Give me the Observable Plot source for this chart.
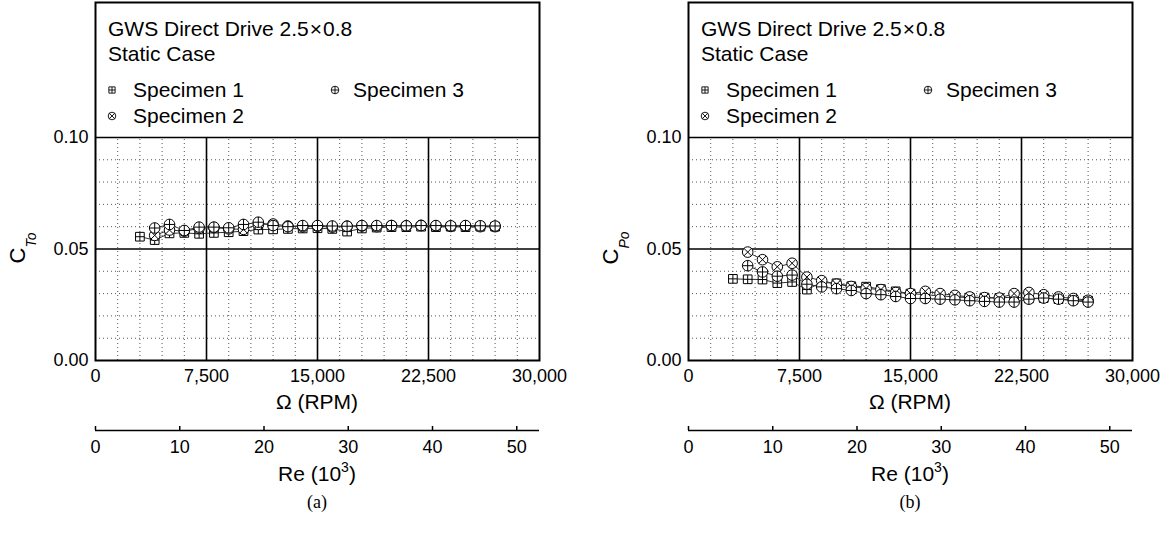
<!DOCTYPE html>
<html><head><meta charset="utf-8">
<script src="https://cdn.jsdelivr.net/npm/d3@7"></script>
<script src="https://cdn.jsdelivr.net/npm/@observablehq/plot@0.6"></script>
<style>
body{margin:0;background:#fff;}
#root{position:relative;width:1169px;height:533px;overflow:hidden;background:#fff;}
.panel{position:absolute;top:0;width:580px;height:533px;}
.panel svg{position:absolute;left:0;}
</style></head><body><div id="root"></div>
<script>
// ---------------- data ----------------
const rpmS1 = [3000,4000,5000,6000,7000,8000,9000,10000,11000,12000,13000,14000,15000,16000,17000,18000,19000,20000,21000,22000,23000,24000,25000,26000,27000];
const rpmS23 = [4000,5000,6000,7000,8000,9000,10000,11000,12000,13000,14000,15000,16000,17000,18000,19000,20000,21000,22000,23000,24000,25000,26000,27000];

// (a) thrust coefficient C_To
const ctoS1 = [0.0555,0.0540,0.0570,0.0572,0.0568,0.0572,0.0575,0.0580,0.0587,0.0588,0.0590,0.0592,0.0593,0.0590,0.0578,0.0592,0.0596,0.0598,0.0598,0.0600,0.0598,0.0600,0.0598,0.0600,0.0600];
const ctoS2 = [0.0561,0.0585,0.0580,0.0592,0.0596,0.0590,0.0588,0.0610,0.0612,0.0603,0.0600,0.0602,0.0598,0.0602,0.0603,0.0600,0.0605,0.0603,0.0606,0.0603,0.0601,0.0603,0.0600,0.0600];
const ctoS3 = [0.0594,0.0610,0.0583,0.0598,0.0598,0.0595,0.0610,0.0620,0.0605,0.0600,0.0605,0.0605,0.0603,0.0602,0.0605,0.0605,0.0605,0.0604,0.0605,0.0605,0.0604,0.0605,0.0604,0.0603];

// (b) power coefficient C_Po
const cpoS1 = [0.0366,0.0364,0.0363,0.0347,0.0352,0.0318,0.0350,0.0346,0.0333,0.0331,0.0320,0.0310,0.0300,0.0295,0.0290,0.0285,0.0282,0.0282,0.0280,0.0285,0.0278,0.0280,0.0275,0.0272,0.0268];
const cpoS2 = [0.0486,0.0452,0.0420,0.0436,0.0374,0.0358,0.0342,0.0332,0.0323,0.0318,0.0305,0.0300,0.0310,0.0300,0.0292,0.0285,0.0282,0.0280,0.0300,0.0305,0.0295,0.0285,0.0278,0.0270];
const cpoS3 = [0.0425,0.0397,0.0378,0.0383,0.0342,0.0330,0.0322,0.0314,0.0300,0.0295,0.0287,0.0278,0.0278,0.0275,0.0272,0.0268,0.0265,0.0262,0.0262,0.0275,0.0280,0.0275,0.0268,0.0262];

const specimens = ["Specimen 1","Specimen 2","Specimen 3"];
const rpmTicks = [0,7500,15000,22500,30000];
const rpmMajor = [7500,15000,22500];
const rpmMinor = [1500,3000,4500,6000,9000,10500,12000,13500,16500,18000,19500,21000,24000,25500,27000,28500];
const yTicks = [0,0.05,0.10];
const yMajor = [0.05,0.10];
const yMinor = [0.01,0.02,0.03,0.04,0.06,0.07,0.08,0.09];
const reTicks = [0,10,20,30,40,50];
const reMax = 52.7;
const yTop = 0.1605;

// ---------------- symbols ----------------
const squarePlus = {draw(ctx, size){const r=Math.sqrt(size/Math.PI), s=r*0.82;
  ctx.moveTo(-s,-s);ctx.lineTo(s,-s);ctx.lineTo(s,s);ctx.lineTo(-s,s);ctx.closePath();
  ctx.moveTo(0,-s);ctx.lineTo(0,s);ctx.moveTo(-s,0);ctx.lineTo(s,0);}};
const circleTimes = {draw(ctx, size){const r=Math.sqrt(size/Math.PI), c=r*Math.SQRT1_2;
  ctx.moveTo(r,0);ctx.arc(0,0,r,0,2*Math.PI);ctx.closePath();
  ctx.moveTo(-c,-c);ctx.lineTo(c,c);ctx.moveTo(-c,c);ctx.lineTo(c,-c);}};
const circlePlus = {draw(ctx, size){const r=Math.sqrt(size/Math.PI);
  ctx.moveTo(r,0);ctx.arc(0,0,r,0,2*Math.PI);ctx.closePath();
  ctx.moveTo(0,-r);ctx.lineTo(0,r);ctx.moveTo(-r,0);ctx.lineTo(r,0);}};
const symbolsList = [squarePlus, circleTimes, circlePlus];

function symPath(sym, r){const p=d3.path(); sym.draw(p, r*r*Math.PI); return p.toString();}

const FONT = '"Liberation Sans", Arial, Helvetica, sans-serif';

function panel(left, s1, s2, s3, sub, caption){
  const div = document.createElement("div");
  div.className = "panel"; div.style.left = left + "px";
  document.getElementById("root").appendChild(div);

  const series = [
    rpmS1.map((x,i)=>({rpm:x, v:s1[i], s:specimens[0]})),
    rpmS23.map((x,i)=>({rpm:x, v:s2[i], s:specimens[1]})),
    rpmS23.map((x,i)=>({rpm:x, v:s3[i], s:specimens[2]}))
  ];
  const grid = {stroke:"#555", strokeDasharray:"1,3", strokeWidth:1};
  const marks = [
    Plot.ruleX(rpmMinor, {y1:0, y2:0.1, ...grid}),
    Plot.ruleY(yMinor, {x1:0, x2:30000, ...grid}),
    Plot.ruleX(rpmMajor, {y1:0, y2:0.1, stroke:"black", strokeWidth:1.6}),
    Plot.ruleY(yMajor, {x1:0, x2:30000, stroke:"black", strokeWidth:1.6}),
  ];
  series.forEach((d,k)=>{
    marks.push(Plot.line(d, {x:"rpm", y:"v", stroke:"#333", strokeWidth:1}));
  });
  series.forEach((d,k)=>{
    marks.push(Plot.dot(d, {x:"rpm", y:"v", symbol:symbolsList[k], r:5.3, fill:"white", stroke:"black", strokeWidth:1}));
  });
  marks.push(
    Plot.frame({stroke:"black", strokeWidth:2}),
    Plot.axisX({ticks:rpmTicks, tickFormat:d3.format(","), tickSize:0, tickPadding:9, label:null}),
    Plot.axisY({ticks:yTicks, tickFormat:d3.format(".2f"), tickSize:0, tickPadding:7, label:null})
  );
  const main = Plot.plot({
    width:580, height:420, marginLeft:95, marginRight:41, marginTop:2, marginBottom:60,
    style:{fontFamily:FONT, fontSize:"18px", color:"black", background:"transparent", overflow:"visible"},
    x:{domain:[0,30000]}, y:{domain:[0,yTop]},
    marks
  });
  main.style.top = "0px";
  div.appendChild(main);

  const re = Plot.plot({
    width:580, height:50, marginLeft:95, marginRight:41, marginTop:6, marginBottom:40,
    style:{fontFamily:FONT, fontSize:"18px", color:"black", background:"transparent", overflow:"visible"},
    x:{domain:[0,reMax]}, y:{domain:[0,1], axis:null},
    marks:[
      Plot.ruleX(reTicks, {y1:0, y2:1, stroke:"black", strokeWidth:1.5}),
      Plot.ruleY([0], {stroke:"black", strokeWidth:1.6}),
      Plot.axisX({ticks:reTicks, tickSize:0, tickPadding:10, label:null, tickFormat:d=>String(d)})
    ]
  });
  re.style.top = "420px";
  div.appendChild(re);

  // text overlay: legend, axis titles, caption
  const ns = "http://www.w3.org/2000/svg";
  const ov = document.createElementNS(ns, "svg");
  ov.setAttribute("width", 580); ov.setAttribute("height", 533);
  ov.style.top = "0px"; ov.style.fontFamily = FONT;
  const legendRows = [
    {k:0, sx:112, sy:90, tx:133, ty:97},
    {k:2, sx:335, sy:90, tx:353, ty:97},
    {k:1, sx:112, sy:116, tx:133, ty:123}
  ];
  let html = `
    <text x="108" y="36" font-size="21">GWS Direct Drive 2.5<tspan dx="1">×</tspan><tspan dx="1">0.8</tspan></text>
    <text x="108" y="61" font-size="21">Static Case</text>`;
  legendRows.forEach(r=>{
    html += `<path transform="translate(${r.sx},${r.sy})" d="${symPath(symbolsList[r.k],3.8)}" fill="white" stroke="black" stroke-width="0.9"/>
    <text x="${r.tx}" y="${r.ty}" font-size="21">${specimens[r.k]}</text>`;
  });
  html += `
    <text transform="translate(25,248) rotate(-90)" text-anchor="middle" font-size="22">C<tspan font-size="14" font-style="italic" dy="11">${sub}</tspan></text>
    <text x="317" y="409" text-anchor="middle" font-size="21">Ω (RPM)</text>
    <text x="317" y="481" text-anchor="middle" font-size="21">Re (10<tspan font-size="14" dy="-9">3</tspan><tspan dy="9">)</tspan></text>
    <text x="317" y="508" text-anchor="middle" font-size="18" font-family="'Liberation Serif', 'DejaVu Serif', serif">${caption}</text>`;
  ov.innerHTML = html;
  div.appendChild(ov);
}

panel(0, ctoS1, ctoS2, ctoS3, "To", "(a)");
panel(593, cpoS1, cpoS2, cpoS3, "Po", "(b)");
</script>
</body></html>
